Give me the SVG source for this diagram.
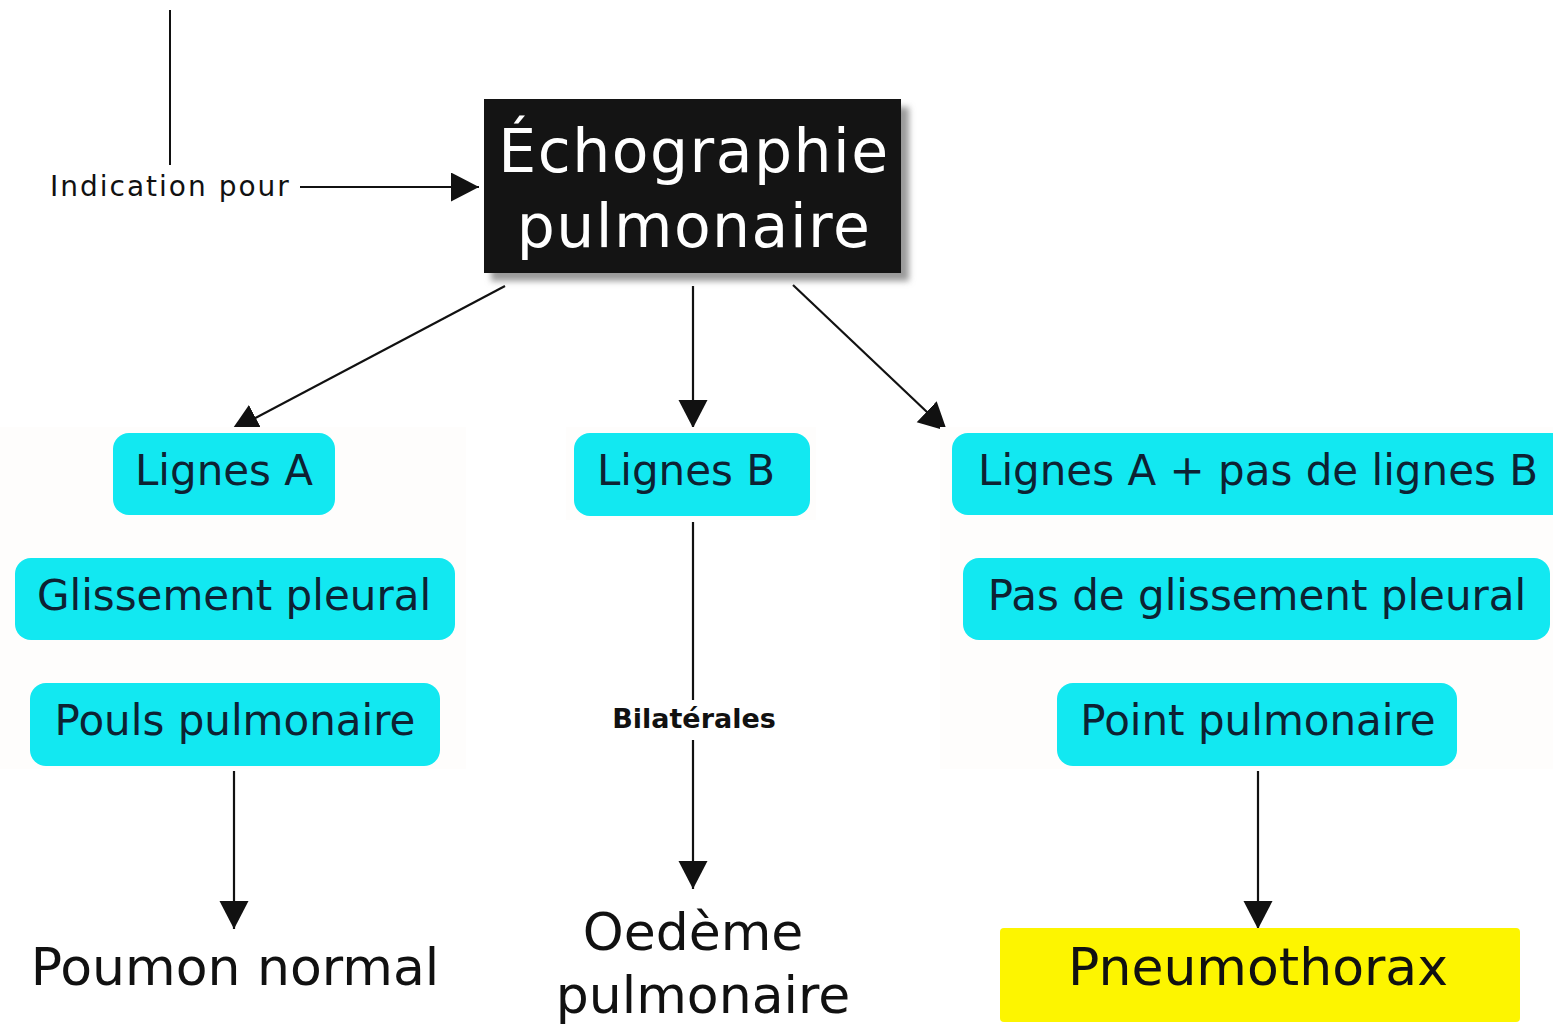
<svg xmlns="http://www.w3.org/2000/svg" width="1553" height="1028" viewBox="0 0 1553 1028">
  <style>
    .cyan { fill: #12e8f1; }
    .ctext { font-family: "DejaVu Sans", Verdana, sans-serif; font-size: 42px; fill: #0d2233; text-anchor: middle; }
    .big { font-family: "DejaVu Sans", Verdana, sans-serif; font-size: 52px; fill: #111; text-anchor: middle; }
    .lbl { font-family: "DejaVu Sans", Verdana, sans-serif; fill: #111; }
    .edge { stroke: #111; stroke-width: 2.2; fill: none; marker-end: url(#head); }
    .panel { fill: #fefdfc; }
  </style>
  <defs>
    <marker id="head" markerUnits="userSpaceOnUse" markerWidth="30" markerHeight="30" refX="28" refY="14.5" orient="auto" viewBox="0 0 30 30">
      <path d="M0,0 L28,14.5 L0,29 Z" fill="#111"/>
    </marker>
    <filter id="shadow" x="-10%" y="-10%" width="130%" height="140%">
      <feGaussianBlur stdDeviation="3"/>
    </filter>
  </defs>

  <rect width="1553" height="1028" fill="#ffffff"/>

  <!-- connectors -->
  <g id="connectors">
    <line x1="170" y1="10" x2="170" y2="165" stroke="#111" stroke-width="2"/>
    <line class="edge" x1="300" y1="187" x2="479" y2="187"/>
    <line class="edge" x1="505" y1="286" x2="231" y2="431"/>
    <line class="edge" x1="693" y1="286" x2="693" y2="428"/>
    <line class="edge" x1="793" y1="285" x2="947" y2="431"/>
    <line x1="693" y1="522" x2="693" y2="700" stroke="#111" stroke-width="2.2"/>
    <line class="edge" x1="693" y1="740" x2="693" y2="889"/>
    <line class="edge" x1="234" y1="771" x2="234" y2="929"/>
    <line class="edge" x1="1258" y1="771" x2="1258" y2="929"/>
  </g>

  <!-- column backgrounds -->
  <rect class="panel" x="0" y="427" width="466" height="342"/>
  <rect class="panel" x="566" y="427" width="250" height="93"/>
  <rect class="panel" x="940" y="427" width="613" height="342"/>

  <!-- label on the entry arrow -->
  <g id="label-indication">
    <text class="lbl" x="50" y="196" font-size="28" letter-spacing="2">Indication pour</text>
  </g>

  <!-- main node -->
  <g id="node-echographie">
    <rect x="491" y="107" width="418" height="174" fill="#9a9a9a" filter="url(#shadow)"/>
    <rect x="484" y="99" width="417" height="174" fill="#141414"/>
    <text x="694" y="172" font-family="DejaVu Sans, Verdana, sans-serif" font-size="60" letter-spacing="1.5" fill="#ffffff" text-anchor="middle">Échographie</text>
    <text x="694" y="247" font-family="DejaVu Sans, Verdana, sans-serif" font-size="60" letter-spacing="1.5" fill="#ffffff" text-anchor="middle">pulmonaire</text>
  </g>

  <!-- left column -->
  <g id="node-lignes-a">
    <rect class="cyan" x="113" y="433" width="222" height="82" rx="16"/>
    <text class="ctext" x="224" y="485">Lignes A</text>
  </g>
  <g id="node-glissement">
    <rect class="cyan" x="15" y="558" width="440" height="82" rx="16"/>
    <text class="ctext" x="234" y="610">Glissement pleural</text>
  </g>
  <g id="node-pouls">
    <rect class="cyan" x="30" y="683" width="410" height="83" rx="16"/>
    <text class="ctext" x="235" y="735">Pouls pulmonaire</text>
  </g>

  <!-- middle column -->
  <g id="node-lignes-b">
    <rect class="cyan" x="574" y="433" width="236" height="83" rx="16"/>
    <text class="ctext" x="686" y="485">Lignes B</text>
  </g>
  <g id="label-bilaterales">
    <text class="lbl" x="694" y="728" font-size="27" font-weight="bold" text-anchor="middle">Bilatérales</text>
  </g>

  <!-- right column -->
  <g id="node-lignes-a-pas-b">
    <rect class="cyan" x="952" y="433" width="620" height="82" rx="16"/>
    <text class="ctext" x="1258" y="485">Lignes A + pas de lignes B</text>
  </g>
  <g id="node-pas-glissement">
    <rect class="cyan" x="963" y="558" width="587" height="82" rx="16"/>
    <text class="ctext" x="1257" y="610">Pas de glissement pleural</text>
  </g>
  <g id="node-point">
    <rect class="cyan" x="1057" y="683" width="400" height="83" rx="16"/>
    <text class="ctext" x="1258" y="735">Point pulmonaire</text>
  </g>

  <!-- outcomes -->
  <g id="node-poumon-normal">
    <text class="big" x="235" y="985">Poumon normal</text>
  </g>
  <g id="node-oedeme">
    <text class="big" x="693" y="950">Oedème</text>
    <text class="big" x="703" y="1013">pulmonaire</text>
  </g>
  <g id="node-pneumothorax">
    <rect x="1000" y="928" width="520" height="94" rx="4" fill="#fdf500"/>
    <text class="big" x="1258" y="985">Pneumothorax</text>
  </g>
</svg>
